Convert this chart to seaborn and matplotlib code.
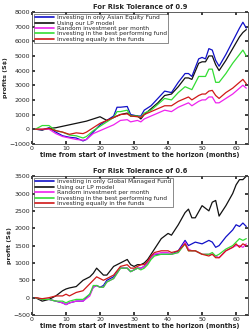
import matplotlib
matplotlib.use("Agg")
import matplotlib.pyplot as plt
import numpy as np
import pandas as pd
import seaborn as sns

sns.set_theme(style="white", font="DejaVu Sans")

# ---- top chart: risk tolerance 0.9 ----
months_a = [1, 3, 5, 7, 9, 11, 13, 15, 16, 18, 20, 22, 24, 25, 26, 28, 29, 31, 32, 33,
            35, 37, 39, 41, 43, 45, 46, 47, 49, 50, 51, 52, 53, 54, 55, 57, 59, 61, 62, 63]
asian = [0, -50, 100, -200, -450, -550, -600, -800, -700, -200, 300, 600, 900, 1500, 1500,
         1550, 1000, 900, 900, 1300, 1600, 2100, 2600, 2500, 3200, 3800, 3800, 3600, 4800,
         4900, 4800, 5500, 5400, 4700, 4300, 5100, 6000, 6900, 7300, 6900]
lp_a = [0, -50, 50, 100, 200, 300, 400, 500, 550, 700, 850, 600, 800, 900, 1000, 1100, 900,
        900, 700, 1000, 1400, 1800, 2300, 2400, 2900, 3500, 3500, 3400, 4500, 4600, 4600,
        5000, 5000, 4400, 4000, 4700, 5500, 6300, 6600, 6800]
rand_a = [0, 0, 0, -300, -500, -600, -700, -750, -700, -300, -100, 100, 300, 450, 600, 650,
          500, 600, 500, 700, 900, 1100, 1300, 1200, 1500, 1700, 1800, 1600, 1900, 2000, 2000,
          2200, 2200, 1800, 1800, 2100, 2400, 2800, 3000, 2800]
best_a = [0, 250, 250, -100, -200, -400, -450, -600, -500, -100, 200, 500, 800, 1200, 1200,
          1300, 900, 900, 800, 1100, 1300, 1700, 2100, 2000, 2500, 2900, 2800, 2700, 3600,
          3600, 3600, 4100, 4100, 3200, 3200, 3800, 4500, 5100, 5400, 5000]
equal_a = [0, 0, 50, -100, -200, -350, -250, -300, -200, 100, 400, 600, 800, 900, 1000, 1050,
           900, 850, 800, 1000, 1200, 1400, 1600, 1600, 1900, 2100, 2200, 2000, 2300, 2400,
           2400, 2600, 2650, 2300, 2100, 2500, 2800, 3200, 3400, 3100]
labels_a = ["Investing in only Asian Equity Fund", "Using our LP model",
            "Random investment per month", "Investing in the best performing fund",
            "Investing equally in the funds"]

# ---- bottom chart: risk tolerance 0.6 ----
months_b = [1, 3, 5, 7, 9, 10, 11, 13, 15, 17, 18, 19, 20, 21, 22, 24, 26, 28, 29, 30, 31, 32,
            33, 34, 35, 36, 38, 40, 41, 43, 45, 46, 47, 48, 50, 52, 53, 54, 55, 57, 59, 60, 61,
            62, 63]
globalm = [0, -50, -50, -100, -150, -200, -150, -100, -100, 100, 300, 350, 300, 350, 500, 600,
           850, 850, 750, 800, 850, 850, 900, 1000, 1150, 1250, 1250, 1250, 1250, 1350, 1650,
           1500, 1550, 1600, 1550, 1650, 1600, 1450, 1500, 1750, 1950, 2100, 2050, 2150, 2050]
lp_b = [0, -100, -50, 50, 200, 250, 280, 320, 500, 600, 700, 850, 750, 650, 650, 900, 1000,
        1100, 950, 900, 950, 950, 1000, 1100, 1250, 1400, 1700, 1850, 1800, 2100, 2450, 2550,
        2300, 2300, 2650, 2500, 2750, 2800, 2350, 2650, 3000, 3250, 3400, 3400, 3500]
rand_b = [0, -50, -50, -100, -150, -200, -150, -100, -100, 50, 300, 350, 300, 300, 450, 550,
          850, 850, 750, 800, 850, 850, 900, 1000, 1150, 1250, 1300, 1300, 1250, 1300, 1600,
          1400, 1350, 1350, 1250, 1250, 1250, 1200, 1150, 1350, 1450, 1500, 1500, 1450, 1550]
best_b = [0, -50, -50, -100, -100, -150, -100, -50, -50, 100, 350, 350, 300, 300, 450, 550,
          850, 850, 750, 800, 850, 800, 850, 950, 1100, 1200, 1250, 1250, 1250, 1300, 1550,
          1350, 1350, 1350, 1250, 1250, 1300, 1200, 1250, 1400, 1500, 1600, 1700, 1650, 1700]
equal_b = [0, -30, 0, 50, 50, 100, 50, 150, 200, 400, 500, 600, 550, 500, 550, 650, 900, 950,
           850, 850, 900, 950, 950, 1050, 1200, 1300, 1350, 1350, 1300, 1350, 1550, 1350, 1350,
           1350, 1250, 1200, 1250, 1150, 1150, 1350, 1450, 1550, 1450, 1550, 1500]
labels_b = ["Investing in only Global Managed Fund", "Using our LP model",
            "Random investment per month", "Investing in the best performing fund",
            "Investing equally in the funds"]

colors = ["#1010c8", "#111111", "#ee22ee", "#33dd33", "#d01818"]


def long_df(months, series, labels):
    frames = [pd.DataFrame({"month": months, "profit": s, "strategy": lab})
              for s, lab in zip(series, labels)]
    return pd.concat(frames, ignore_index=True)


df_a = long_df(months_a, [asian, lp_a, rand_a, best_a, equal_a], labels_a)
df_b = long_df(months_b, [globalm, lp_b, rand_b, best_b, equal_b], labels_b)

fig = plt.figure(figsize=(2.5, 3.33), dpi=100)
ax1 = fig.add_axes([0.128, 0.568, 0.864, 0.396])
ax2 = fig.add_axes([0.128, 0.054, 0.864, 0.417])

panels = [
    (ax1, df_a, labels_a, "For Risk Tolerance of 0.9", "profits (S$)", (-1000, 8000), 1000),
    (ax2, df_b, labels_b, "For Risk Tolerance of 0.6", "profit (S$)", (-500, 3500), 500),
]
for ax, df, labels, title, ylab, ylim, step in panels:
    sns.lineplot(data=df, x="month", y="profit", hue="strategy", hue_order=labels,
                 palette=colors, linewidth=0.9, ax=ax)
    ax.set_xlim(0, 63.5)
    ax.set_ylim(*ylim)
    ax.set_xticks(np.arange(0, 61, 10))
    ax.set_yticks(np.arange(ylim[0], ylim[1] + 1, step))
    ax.tick_params(direction="in", length=2, labelsize=4.5, pad=1.5,
                   top=True, right=True, bottom=True, left=True)
    for sp in ax.spines.values():
        sp.set_color("#444444")
        sp.set_linewidth(0.6)
    ax.set_title(title, fontsize=4.9, fontweight="bold", pad=2.5)
    ax.set_xlabel("time from start of investment to the horizon (months)",
                  fontsize=4.7, fontweight="bold", labelpad=0.5)
    ax.set_ylabel(ylab, fontsize=4.6, fontweight="bold", labelpad=1)
    leg = ax.legend(loc="upper left", fontsize=4.2, frameon=True, fancybox=False,
                    borderpad=0.25, labelspacing=0.05, handlelength=3.2,
                    handletextpad=0.5, borderaxespad=0.3)
    leg.get_frame().set_edgecolor("#333333")
    leg.get_frame().set_linewidth(0.5)
    for line in leg.get_lines():
        line.set_linewidth(1.2)

fig.savefig("out.png", dpi=100)
